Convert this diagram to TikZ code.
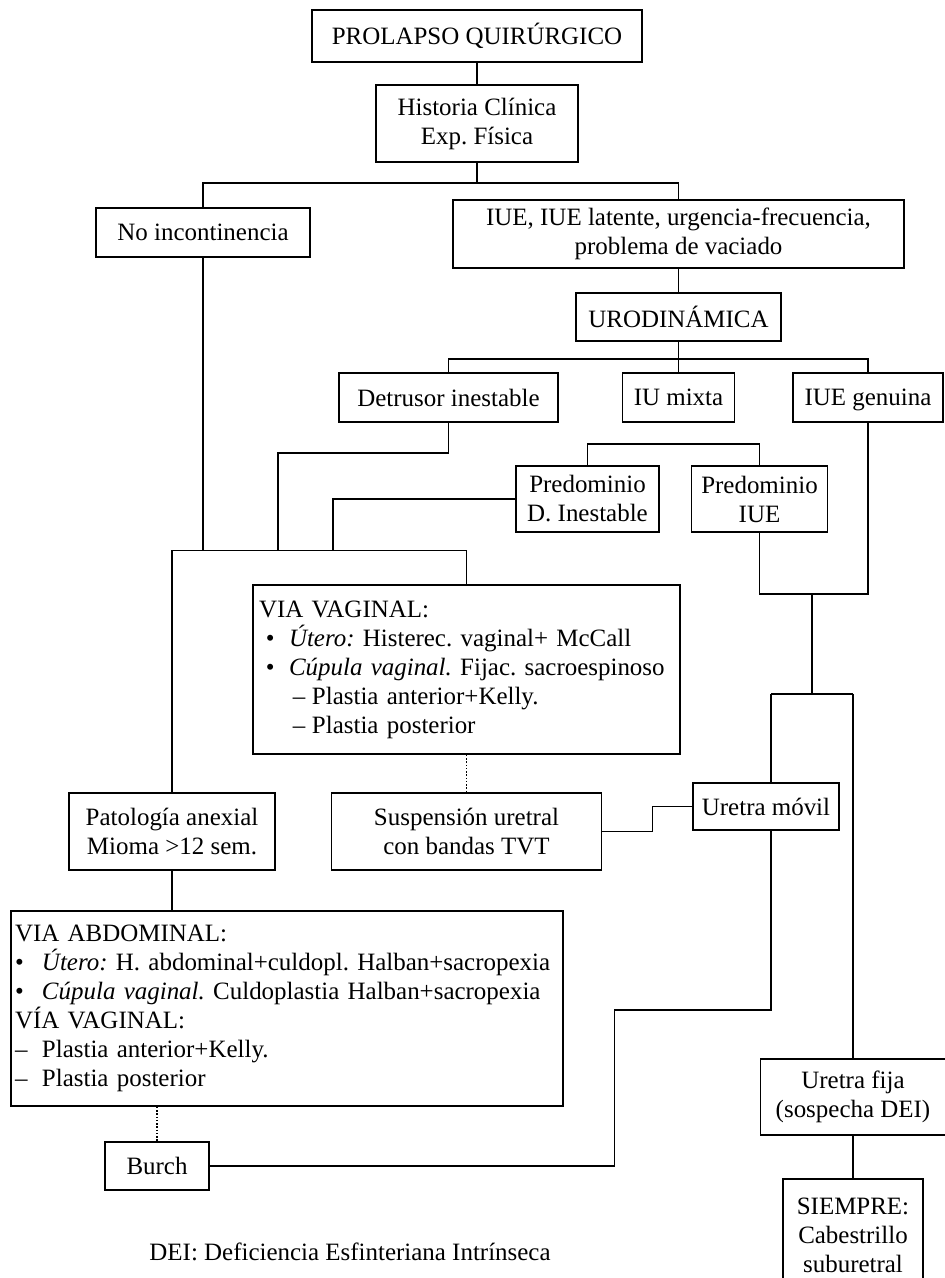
\documentclass[tikz,border=0pt]{standalone}
\usepackage{fontspec}
\setmainfont{Liberation Serif}
\usepackage{tikz}
\usetikzlibrary{positioning}
\newcommand{\letra}{\fontsize{14.2pt}{16.5pt}\selectfont\frenchspacing}
\tikzstyle{caja} = [rectangle, draw=black, line width=0.85pt, align=center, font=\letra, inner sep=2pt]
\tikzstyle{lista} = [rectangle, draw=black, line width=0.85pt, align=left, font=\letra, inner xsep=0.12cm]
\tikzstyle{linea} = [line width=0.85pt]
\tikzstyle{punteada} = [line width=0.85pt, densely dotted]

\begin{document}
\begin{tikzpicture}
 \useasboundingbox (0,0) rectangle (18.9,-25.56);
 \node[caja, minimum width=6.6cm, minimum height=1.04cm] (prolapso) at (9.54,-0.72)
              {PROLAPSO QUIRÚRGICO};
 \node[caja, minimum width=4.04cm, minimum height=1.54cm] (historia) at (prolapso) [xshift=0cm,yshift=-1.75cm]
              {Historia Clínica\\Exp. Física};
 \node[caja, minimum width=4.28cm, minimum height=0.98cm] (noinc) at (historia) [xshift=-5.48cm,yshift=-2.18cm]
              {No incontinencia};
 \node[caja, minimum width=9.02cm, minimum height=1.36cm] (iue) at (historia) [xshift=4.03cm,yshift=-2.21cm]
              {IUE, IUE latente, urgencia-frecuencia,\\problema de vaciado};
 \node[caja, minimum width=4.1cm, minimum height=0.96cm] (uro) at (iue) [xshift=0cm,yshift=-1.66cm]
              {URODINÁMICA};
 \node[caja, minimum width=4.38cm, minimum height=0.98cm] (detrusor) at (uro) [xshift=-4.6cm,yshift=-1.61cm]
              {Detrusor inestable};
 \node[caja, minimum width=2.24cm, minimum height=0.98cm] (mixta) at (uro) [xshift=0cm,yshift=-1.61cm]
              {IU mixta};
 \node[caja, minimum width=3cm, minimum height=0.98cm, text depth=0pt] (genuina) at (uro) [xshift=3.79cm,yshift=-1.61cm]
              {IUE genuina};
 \node[caja, minimum width=2.86cm, minimum height=1.32cm] (predD) at (mixta) [xshift=-1.82cm,yshift=-2.03cm]
              {Predominio\\D. Inestable};
 \node[caja, minimum width=2.72cm, minimum height=1.32cm] (predIUE) at (mixta) [xshift=1.62cm,yshift=-2.03cm]
              {Predominio\\IUE};
 \node[lista, text width=8.3cm, minimum height=3.38cm] (vaginal) at (detrusor) [xshift=0.36cm,yshift=-5.44cm]
              {VIA VAGINAL:\\
               \hspace*{0.14cm}\makebox[0.46cm][l]{\textbullet}\textit{Útero:} Histerec. vaginal+ McCall\\
               \hspace*{0.14cm}\makebox[0.46cm][l]{\textbullet}\textit{Cúpula vaginal.} Fijac. sacroespinoso\\
               \hspace*{0.68cm}\makebox[0.38cm][l]{–}Plastia anterior+Kelly.\\
               \hspace*{0.68cm}\makebox[0.38cm][l]{–}Plastia posterior};
 \node[caja, minimum width=5.4cm, minimum height=1.54cm] (susp) at (vaginal) [xshift=0cm,yshift=-3.24cm]
              {Suspensión uretral\\con bandas TVT};
 \node[caja, minimum width=4.12cm, minimum height=1.54cm] (pat) at (susp) [xshift=-5.89cm,yshift=0cm]
              {Patología anexial\\Mioma >12 sem.};
 \node[caja, minimum width=2.92cm, minimum height=0.94cm] (movil) at (susp) [xshift=5.99cm,yshift=0.5cm]
              {Uretra móvil};
 \node[lista, inner xsep=0.08cm, text width=10.88cm, minimum height=3.9cm] (abd) at (pat) [xshift=2.3cm,yshift=-3.54cm]
              {VIA ABDOMINAL:\\
               \makebox[0.54cm][l]{\textbullet}\textit{Útero:} H. abdominal+culdopl. Halban+sacropexia\\
               \makebox[0.54cm][l]{\textbullet}\textit{Cúpula vaginal.} Culdoplastia Halban+sacropexia\\
               VÍA VAGINAL:\\
               \makebox[0.54cm][l]{–}Plastia anterior+Kelly.\\
               \makebox[0.54cm][l]{–}Plastia posterior};
 \node[caja, minimum width=2.08cm, minimum height=0.96cm] (burch) at (abd) [xshift=-2.6cm,yshift=-3.15cm]
              {Burch};
 \node[caja, minimum width=3.7cm, minimum height=1.52cm] (fija) at (movil) [xshift=1.74cm,yshift=-5.81cm]
              {Uretra fija\\(sospecha DEI)};
 \node[caja, minimum width=2.8cm, minimum height=2.24cm] (siempre) at (fija) [xshift=0cm,yshift=-2.76cm]
              {SIEMPRE:\\Cabestrillo\\suburetral};
 \node[font=\letra] (nota) at (burch) [xshift=3.86cm,yshift=-1.72cm]
              {DEI: Deficiencia Esfinteriana Intrínseca};
% puntos de union
 \coordinate (b1) at ([yshift=-0.4cm]historia.south);
 \coordinate (b2) at ([yshift=-0.34cm]uro.south);
 \coordinate (b3) at ([yshift=-0.42cm]mixta.south);
 \coordinate (jl) at ([yshift=4.84cm]pat.north);
 \coordinate (k1) at ([xshift=2.12cm]jl);
 \coordinate (k2) at ([xshift=3.22cm]jl);
 \coordinate (m1) at ([xshift=1.05cm,yshift=-1.22cm]predIUE.south);
 \coordinate (m2) at ([yshift=-2cm]m1);
 \coordinate (u1) at ([xshift=-0.82cm]m2);
 \coordinate (u2) at ([xshift=0.82cm]m2);
 \coordinate (w1) at ([xshift=8.1cm,yshift=3.12cm]burch.east);
% lineas
 \draw[linea] (prolapso) -- (historia);
 \draw[linea] (historia) -- (b1);
 \draw[linea] (noinc.north) |- (b1) -| (iue.north);
 \draw[linea] (iue) -- (uro);
 \draw[linea] (uro) -- (mixta);
 \draw[linea] (detrusor.north) |- (b2) -| (genuina.north);
 \draw[linea] (predD.north) |- (b3) -| (predIUE.north);
 \draw[linea] (detrusor.south) -- ++(0,-0.6) -| (k1);
 \draw[linea] (predD.west) -| (k2);
 \draw[linea] (noinc.south) -- (noinc.south |- jl);
 \draw[linea] (pat.north) -- (jl) -| (vaginal.north);
 \draw[linea] (predIUE.south) |- (m1) -| (genuina.south);
 \draw[linea] (m1) -- (m2);
 \draw[linea] (u1) -- (u2);
 \draw[linea] (u1) -- (u1 |- movil.north);
 \draw[linea] (u2) -- (fija.north);
 \draw[linea] (u1 |- movil.south) |- (w1) |- (burch.east);
 \draw[linea] (movil.west) -- ++(-0.8,0) |- (susp.east);
 \draw[punteada] (vaginal) -- (susp);
 \draw[linea] (pat) -- (pat |- abd.north);
 \draw[punteada] (burch.north |- abd.south) -- (burch.north);
 \draw[linea] (fija) -- (siempre);
\end{tikzpicture}
\end{document}
